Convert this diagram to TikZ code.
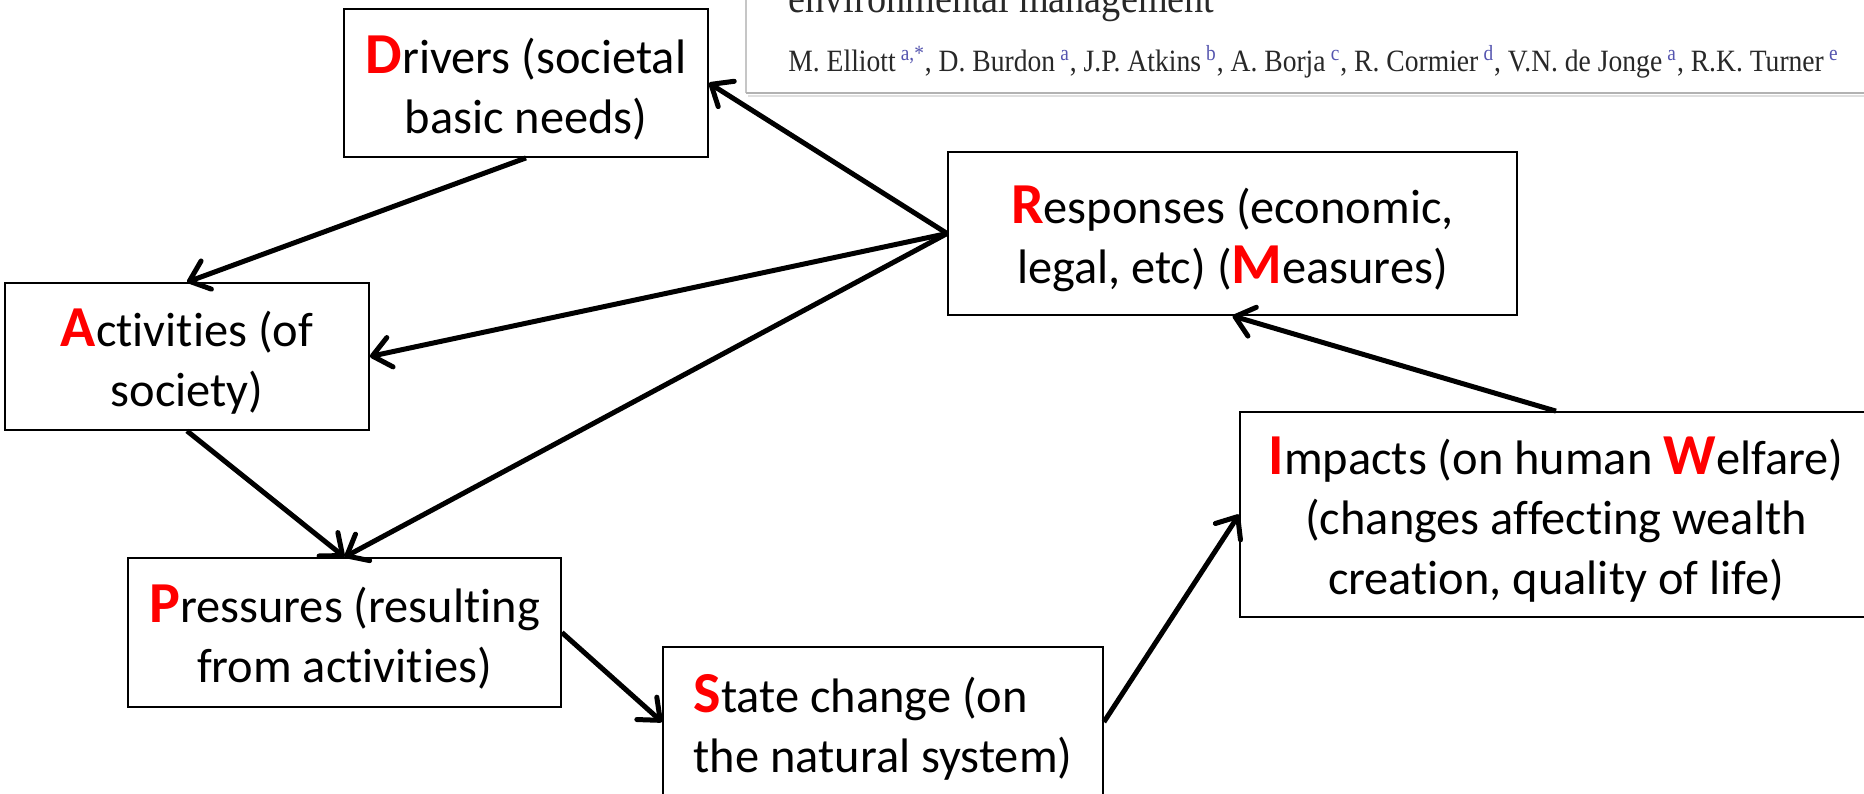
\documentclass[tikz,border=0pt]{standalone}
\usepackage{fontspec}
\setmainfont{Carlito}[Ligatures={NoCommon,NoContextual}]
\newfontfamily\paperfont[FakeStretch=0.89]{Liberation Serif}
\usetikzlibrary{arrows.meta}
\definecolor{initred}{RGB}{255,0,0}
\definecolor{papertext}{RGB}{40,40,40}
\definecolor{paperlink}{RGB}{85,85,175}
% red bold, enlarged initial letter of each DPSIR(W)(M) term
\newcommand\ini[1]{\textcolor{initred}{\fontsize{29}{30}\selectfont\bfseries #1}}
% struts that place the text block inside each box
\newcommand\firststrut{\rule{0pt}{28pt}}
\newcommand\laststrut{\rule[-8pt]{0pt}{8pt}}
% affiliation marks in the author line
\newcommand\aff[1]{\textsuperscript{\color{paperlink}#1}}

\begin{document}
\begin{tikzpicture}[x=0.5pt,y=-0.5pt,
  dpbox/.style={draw=black, line width=0.9pt, inner sep=0pt, align=center,
                font=\fontsize{24.2}{30}\selectfont},
  link/.style={line width=2.5pt, -{Straight Barb[length=9pt,width=15pt,round]}}]
\useasboundingbox (0,0) rectangle (1864,793);
\clip (0,0) rectangle (1864,793);

% header strip of the paper
\fill[white] (746,-10) rectangle (1880,93);
\draw[gray!45, line width=0.6pt] (746,-10) -- (746,93);
\draw[gray!60, line width=1pt] (746,93) -- (1880,93);
\draw[gray!25, line width=1pt] (748,96) -- (1880,96);
\node[anchor=base west, inner sep=0pt, text=papertext,
      font=\paperfont\fontsize{21.5}{24}\selectfont] (title) at (788,12)
  {environmental management};
\node[anchor=base west, inner sep=0pt, text=papertext,
      font=\paperfont\fontsize{15.5}{17}\selectfont] (authors) at (788,71)
  {M. Elliott\,\aff{a,*}, D. Burdon\,\aff{a}, J.P. Atkins\,\aff{b}, A. Borja\,\aff{c}, R. Cormier\,\aff{d}, V.N. de Jonge\,\aff{a}, R.K. Turner\,\aff{e}};

% the boxes
\node[dpbox, minimum width=182pt, minimum height=74pt] (drivers) at (526,83)
  {\firststrut\ini{D}rivers (societal\\basic needs)\laststrut};
\node[dpbox, minimum width=182pt, minimum height=73.5pt] (activities) at (187,356.5)
  {\firststrut\ini{A}ctivities (of\\society)\laststrut};
\node[dpbox, minimum width=216.5pt, minimum height=74.5pt] (pressures) at (344.5,632.5)
  {\firststrut\ini{P}ressures (resulting\\from activities)\laststrut};
\node[dpbox, align=left, minimum width=220pt, minimum height=75pt] (state) at (883,722)
  {\firststrut\ini{S}tate change (on\\the natural system)\laststrut};
\node[dpbox, minimum width=284.5pt, minimum height=81.5pt] (responses) at (1232.5,233.5)
  {\firststrut\ini{R}esponses (economic,\\legal, etc) (\ini{M}easures)\laststrut};
\node[dpbox, minimum width=316pt, minimum height=102.5pt] (impacts) at (1556,514.5)
  {\firststrut\ini{I}mpacts (on human \ini{W}elfare)\\(changes affecting wealth\\creation, quality of life)\laststrut};

% causal links
\draw[link] (drivers.south) -- (activities.north);
\draw[link] (responses.west) -- (drivers.east);
\draw[link] (responses.west) -- (activities.east);
\draw[link] (responses.west) -- (pressures.north);
\draw[link] (activities.south) -- (pressures.north);
\draw[link] (pressures.east) -- (state.west);
\draw[link] (state.east) -- (impacts.west);
\draw[link] (impacts.north) -- (responses.south);
\end{tikzpicture}
\end{document}
